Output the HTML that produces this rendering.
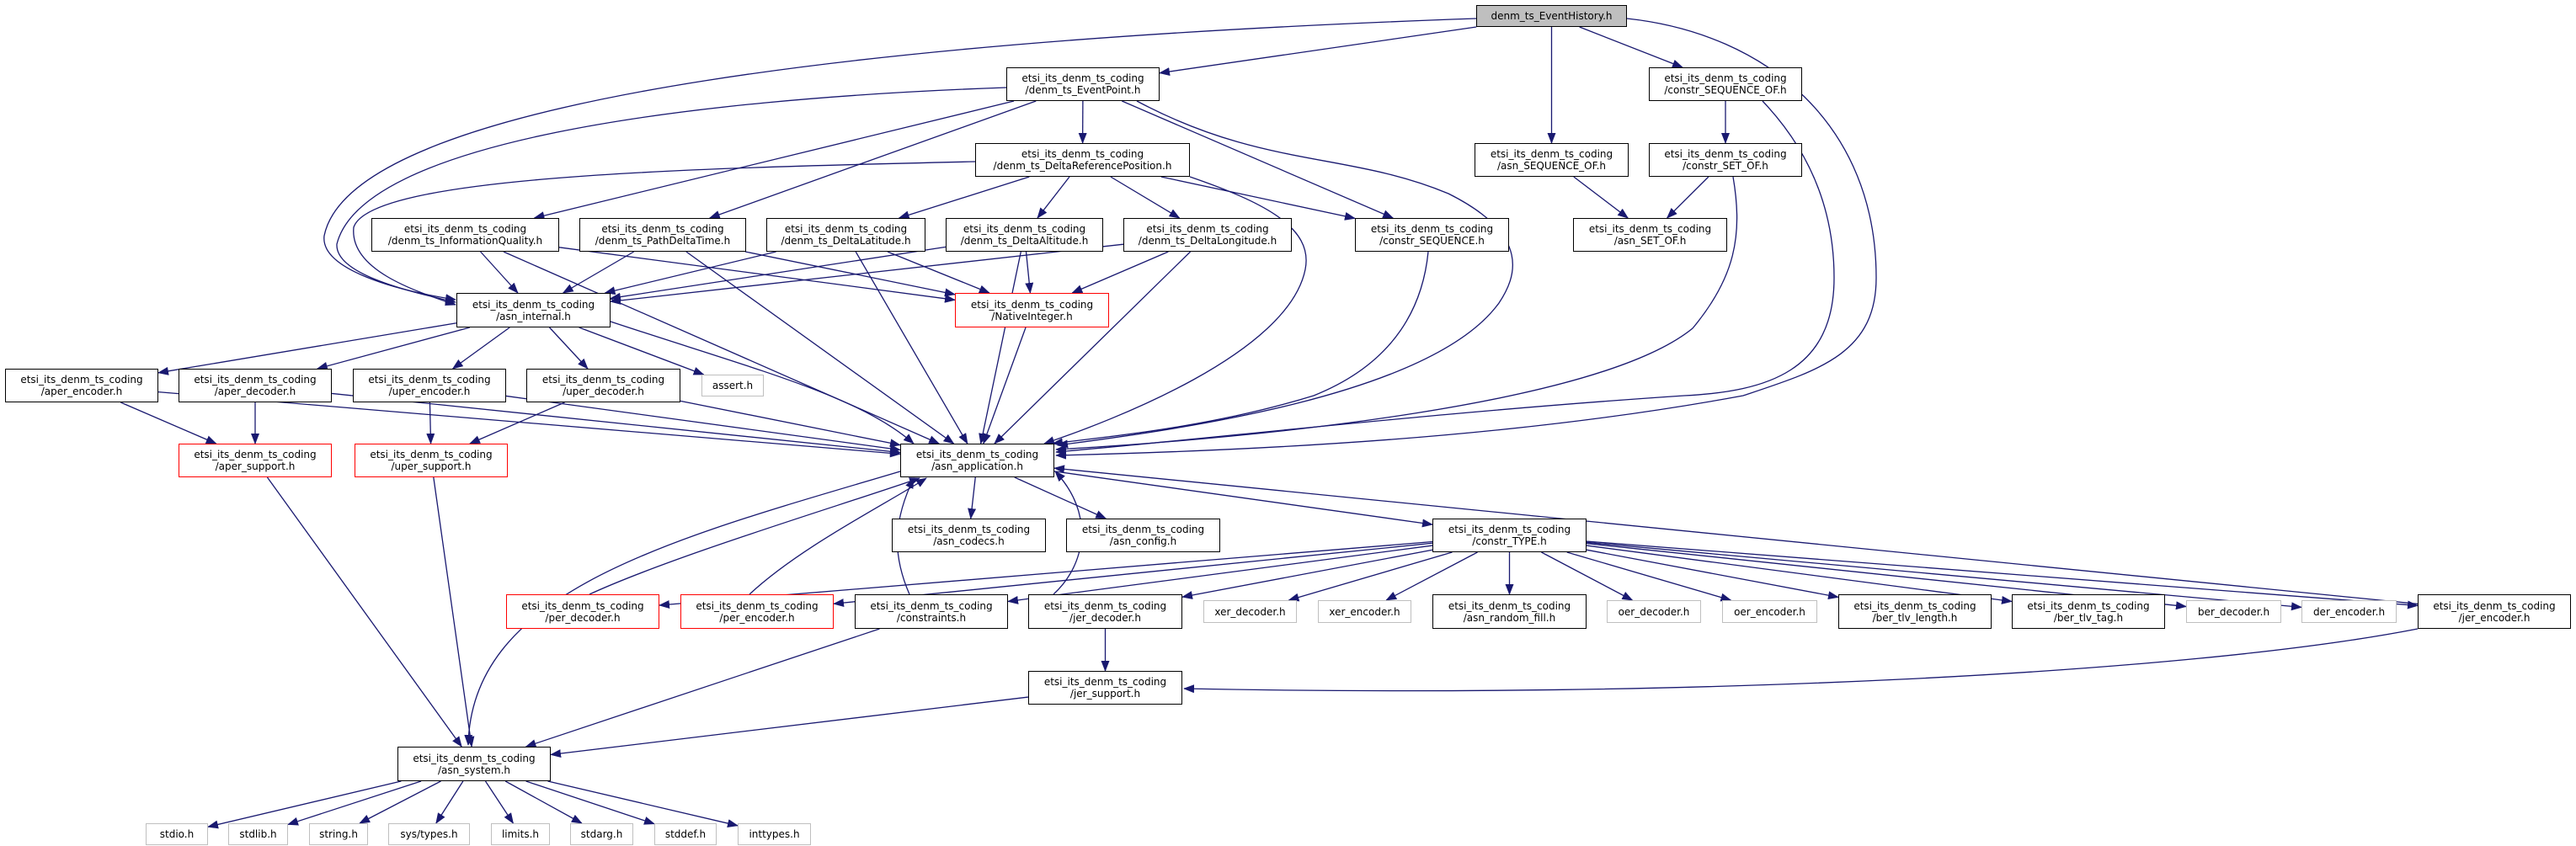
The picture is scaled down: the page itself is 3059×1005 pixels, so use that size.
<!DOCTYPE html>
<html><head><meta charset="utf-8">
<style>
html,body{margin:0;padding:0;background:#fff;}
body{width:3059px;height:1005px;position:relative;overflow:hidden;font-family:"DejaVu Sans","Liberation Sans",sans-serif;}
.n{position:absolute;box-sizing:border-box;border:1.5px solid #000;background:#fff;font-size:12px;line-height:14px;text-align:center;display:flex;flex-direction:column;justify-content:center;color:#000;white-space:nowrap;}
.g{border-color:#bfbfbf;}
.r{border-color:#ff0000;}
.root{background:#bfbfbf;}
svg{position:absolute;left:0;top:0;}
</style></head><body>
<svg id="sv" width="3059" height="1005" viewBox="0 0 3059 1005">
<defs><marker id="a" markerUnits="userSpaceOnUse" markerWidth="13" markerHeight="10" refX="12" refY="5" orient="auto"><path d="M0,0 L13,5 L0,10 z" fill="#191970"/></marker></defs>
<g id="eg" fill="none" stroke="#191970" stroke-width="1.3"></g>
</svg>
<div class="n root" id="eh" style="left:1753px;top:6px;width:179px;height:26px">denm_ts_EventHistory.h</div>
<div class="n" id="ep" style="left:1195px;top:80px;width:182px;height:40px"><div>etsi_its_denm_ts_coding</div><div>/denm_ts_EventPoint.h</div></div>
<div class="n" id="cso" style="left:1958px;top:80px;width:182px;height:40px"><div>etsi_its_denm_ts_coding</div><div>/constr_SEQUENCE_OF.h</div></div>
<div class="n" id="drp" style="left:1158px;top:170px;width:255px;height:40px"><div>etsi_its_denm_ts_coding</div><div>/denm_ts_DeltaReferencePosition.h</div></div>
<div class="n" id="aso" style="left:1751px;top:170px;width:183px;height:40px"><div>etsi_its_denm_ts_coding</div><div>/asn_SEQUENCE_OF.h</div></div>
<div class="n" id="cset" style="left:1958px;top:170px;width:182px;height:40px"><div>etsi_its_denm_ts_coding</div><div>/constr_SET_OF.h</div></div>
<div class="n" id="iq" style="left:441px;top:259px;width:223px;height:40px"><div>etsi_its_denm_ts_coding</div><div>/denm_ts_InformationQuality.h</div></div>
<div class="n" id="pdt" style="left:688px;top:259px;width:198px;height:40px"><div>etsi_its_denm_ts_coding</div><div>/denm_ts_PathDeltaTime.h</div></div>
<div class="n" id="dlat" style="left:910px;top:259px;width:189px;height:40px"><div>etsi_its_denm_ts_coding</div><div>/denm_ts_DeltaLatitude.h</div></div>
<div class="n" id="dalt" style="left:1123px;top:259px;width:187px;height:40px"><div>etsi_its_denm_ts_coding</div><div>/denm_ts_DeltaAltitude.h</div></div>
<div class="n" id="dlon" style="left:1334px;top:259px;width:200px;height:40px"><div>etsi_its_denm_ts_coding</div><div>/denm_ts_DeltaLongitude.h</div></div>
<div class="n" id="cseq" style="left:1609px;top:259px;width:183px;height:40px"><div>etsi_its_denm_ts_coding</div><div>/constr_SEQUENCE.h</div></div>
<div class="n" id="aset" style="left:1868px;top:259px;width:183px;height:40px"><div>etsi_its_denm_ts_coding</div><div>/asn_SET_OF.h</div></div>
<div class="n" id="ai" style="left:542px;top:348px;width:183px;height:41px"><div>etsi_its_denm_ts_coding</div><div>/asn_internal.h</div></div>
<div class="n r" id="ni" style="left:1134px;top:348px;width:183px;height:41px"><div>etsi_its_denm_ts_coding</div><div>/NativeInteger.h</div></div>
<div class="n" id="ae" style="left:6px;top:438px;width:182px;height:40px"><div>etsi_its_denm_ts_coding</div><div>/aper_encoder.h</div></div>
<div class="n" id="ad" style="left:212px;top:438px;width:182px;height:40px"><div>etsi_its_denm_ts_coding</div><div>/aper_decoder.h</div></div>
<div class="n" id="ue" style="left:419px;top:438px;width:182px;height:40px"><div>etsi_its_denm_ts_coding</div><div>/uper_encoder.h</div></div>
<div class="n" id="ud" style="left:625px;top:438px;width:183px;height:40px"><div>etsi_its_denm_ts_coding</div><div>/uper_decoder.h</div></div>
<div class="n g" id="as" style="left:833px;top:445px;width:74px;height:26px">assert.h</div>
<div class="n r" id="asp" style="left:212px;top:527px;width:182px;height:40px"><div>etsi_its_denm_ts_coding</div><div>/aper_support.h</div></div>
<div class="n r" id="usp" style="left:421px;top:527px;width:182px;height:40px"><div>etsi_its_denm_ts_coding</div><div>/uper_support.h</div></div>
<div class="n" id="app" style="left:1069px;top:527px;width:183px;height:40px"><div>etsi_its_denm_ts_coding</div><div>/asn_application.h</div></div>
<div class="n" id="cod" style="left:1059px;top:616px;width:183px;height:40px"><div>etsi_its_denm_ts_coding</div><div>/asn_codecs.h</div></div>
<div class="n" id="cfg" style="left:1266px;top:616px;width:183px;height:40px"><div>etsi_its_denm_ts_coding</div><div>/asn_config.h</div></div>
<div class="n" id="ct" style="left:1701px;top:616px;width:183px;height:40px"><div>etsi_its_denm_ts_coding</div><div>/constr_TYPE.h</div></div>
<div class="n r" id="pd" style="left:601px;top:706px;width:182px;height:41px"><div>etsi_its_denm_ts_coding</div><div>/per_decoder.h</div></div>
<div class="n r" id="pe" style="left:808px;top:706px;width:182px;height:41px"><div>etsi_its_denm_ts_coding</div><div>/per_encoder.h</div></div>
<div class="n" id="con" style="left:1015px;top:706px;width:182px;height:41px"><div>etsi_its_denm_ts_coding</div><div>/constraints.h</div></div>
<div class="n" id="jd" style="left:1221px;top:706px;width:183px;height:41px"><div>etsi_its_denm_ts_coding</div><div>/jer_decoder.h</div></div>
<div class="n g" id="xd" style="left:1429px;top:713px;width:111px;height:27px">xer_decoder.h</div>
<div class="n g" id="xe" style="left:1565px;top:713px;width:111px;height:27px">xer_encoder.h</div>
<div class="n" id="arf" style="left:1701px;top:706px;width:183px;height:41px"><div>etsi_its_denm_ts_coding</div><div>/asn_random_fill.h</div></div>
<div class="n g" id="od" style="left:1908px;top:713px;width:112px;height:27px">oer_decoder.h</div>
<div class="n g" id="oe" style="left:2045px;top:713px;width:113px;height:27px">oer_encoder.h</div>
<div class="n" id="btl" style="left:2183px;top:706px;width:182px;height:41px"><div>etsi_its_denm_ts_coding</div><div>/ber_tlv_length.h</div></div>
<div class="n" id="btt" style="left:2389px;top:706px;width:182px;height:41px"><div>etsi_its_denm_ts_coding</div><div>/ber_tlv_tag.h</div></div>
<div class="n g" id="bd" style="left:2596px;top:713px;width:113px;height:27px">ber_decoder.h</div>
<div class="n g" id="de" style="left:2733px;top:713px;width:113px;height:27px">der_encoder.h</div>
<div class="n" id="je" style="left:2871px;top:706px;width:182px;height:41px"><div>etsi_its_denm_ts_coding</div><div>/jer_encoder.h</div></div>
<div class="n" id="js" style="left:1221px;top:797px;width:183px;height:40px"><div>etsi_its_denm_ts_coding</div><div>/jer_support.h</div></div>
<div class="n" id="sys" style="left:472px;top:887px;width:182px;height:41px"><div>etsi_its_denm_ts_coding</div><div>/asn_system.h</div></div>
<div class="n g" id="stdio" style="left:173px;top:978px;width:74px;height:26px">stdio.h</div>
<div class="n g" id="stdlib" style="left:271px;top:978px;width:71px;height:26px">stdlib.h</div>
<div class="n g" id="string" style="left:367px;top:978px;width:70px;height:26px">string.h</div>
<div class="n g" id="systypes" style="left:461px;top:978px;width:97px;height:26px">sys/types.h</div>
<div class="n g" id="limits" style="left:583px;top:978px;width:70px;height:26px">limits.h</div>
<div class="n g" id="stdarg" style="left:677px;top:978px;width:75px;height:26px">stdarg.h</div>
<div class="n g" id="stddef" style="left:777px;top:978px;width:74px;height:26px">stddef.h</div>
<div class="n g" id="inttypes" style="left:876px;top:978px;width:87px;height:26px">inttypes.h</div>
<script>
(function(){
var g=document.getElementById('eg');
function R(id){var e=document.getElementById(id);return {x:e.offsetLeft,y:e.offsetTop,w:e.offsetWidth,h:e.offsetHeight};}
function C(r){return [r.x+r.w/2,r.y+r.h/2];}
function clip(r,p){var c=C(r),dx=p[0]-c[0],dy=p[1]-c[1];if(!dx&&!dy)return c;
var tx=dx?(r.w/2)/Math.abs(dx):1e9,ty=dy?(r.h/2)/Math.abs(dy):1e9,t=Math.min(tx,ty);return [c[0]+dx*t,c[1]+dy*t];}
function P(d){var p=document.createElementNS('http://www.w3.org/2000/svg','path');p.setAttribute('d',d);p.setAttribute('marker-end','url(#a)');g.appendChild(p);}
function E(a,b){var ra=R(a),rb=R(b);var s=clip(ra,C(rb)),e=clip(rb,C(ra));P('M'+s[0]+','+s[1]+' L'+e[0]+','+e[1]);}
var straight=[['eh','ep'],['eh','aso'],['eh','cso'],['ep','iq'],['ep','pdt'],['ep','drp'],['ep','cseq'],
['drp','dlat'],['drp','dalt'],['drp','dlon'],['drp','cseq'],['cso','cset'],['cset','aset'],['aso','aset'],
['iq','ai'],['iq','ni'],['iq','app'],['pdt','ai'],['pdt','ni'],['pdt','app'],['dlat','ai'],['dlat','ni'],['dlat','app'],
['dalt','ai'],['dalt','ni'],['dalt','app'],['dlon','ai'],['dlon','ni'],['dlon','app'],['ni','app'],
['ai','ae'],['ai','ad'],['ai','ue'],['ai','ud'],['ai','as'],
['ae','asp'],['ae','app'],['ad','asp'],['ad','app'],['ue','usp'],['ue','app'],['ud','usp'],['ud','app'],
['asp','sys'],['usp','sys'],['app','cod'],['app','cfg'],['app','ct'],
['ct','pd'],['ct','pe'],['ct','con'],['ct','jd'],['ct','xd'],['ct','xe'],['ct','arf'],['ct','od'],['ct','oe'],['ct','btl'],['ct','btt'],['ct','bd'],['ct','de'],['ct','je'],
['je','app'],['con','sys'],['jd','js'],['js','sys'],
['sys','stdio'],['sys','stdlib'],['sys','string'],['sys','systypes'],['sys','limits'],['sys','stdarg'],['sys','stddef'],['sys','inttypes']];
straight.forEach(function(x){E(x[0],x[1]);});
[
"M1753,22 C1100,45 420,110 385,280 C380,320 470,345 541,356",
"M1195,104 C800,118 430,170 400,290 C398,325 480,345 541,359",
"M1158,192 C800,200 440,210 420,270 C415,320 490,345 541,362",
"M1932,22 C2100,40 2228,150 2228,330 C2228,420 2160,440 2070,470 C1800,520 1500,535 1254,541",
"M2093,120 C2150,180 2178,250 2178,330 C2178,440 2100,465 2000,470 C1700,490 1450,520 1254,537",
"M2058,210 C2070,280 2060,330 2010,390 C1900,480 1500,520 1254,534",
"M1350,120 C1500,200 1600,180 1720,230 C1820,280 1800,330 1780,360 C1700,470 1400,510 1256,529",
"M1413,210 C1500,240 1560,270 1550,320 C1530,420 1320,500 1240,527",
"M1696,299 C1690,360 1660,430 1560,470 C1430,510 1300,520 1250,527",
"M725,382 C900,440 1020,470 1085,527",
"M1069,560 C800,640 560,700 556,885",
"M700,706 C800,660 1000,600 1092,568",
"M890,706 C950,650 1050,600 1100,568",
"M1080,706 C1060,660 1060,620 1085,568",
"M1251,706 C1290,670 1300,610 1253,560",
"M2871,747 C2600,800 2000,830 1406,818"
].forEach(P);
})();
</script>
</body></html>
